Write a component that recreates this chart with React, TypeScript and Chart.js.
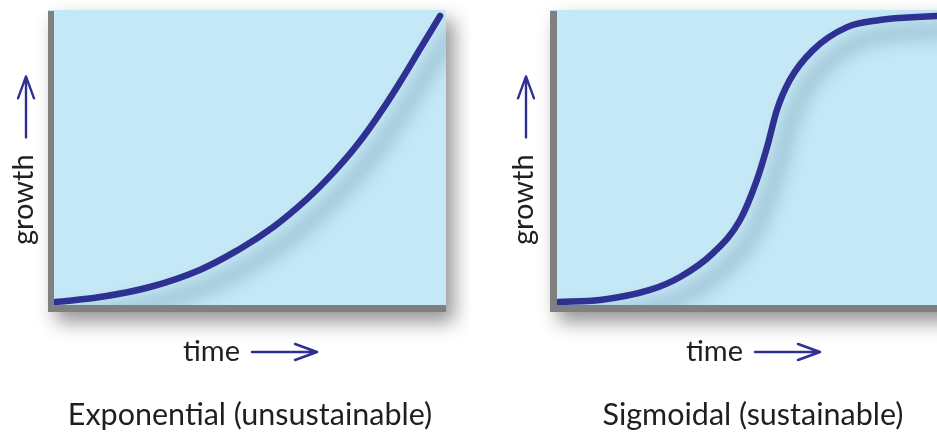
import React, { useEffect, useRef } from "react";
import { Chart, registerables } from "chart.js";

Chart.register(...registerables);

// ---- data ----
const expTime = [0.3, 11.7, 24.5, 37.2, 47.4, 55.9, 64.5, 71.2, 77.3, 83.2, 88.3, 93.4, 98.5];
const expGrowth = [1.0, 2.7, 6.1, 11.9, 19.0, 26.4, 35.9, 44.8, 54.2, 65.1, 75.6, 86.8, 98.0];
const sigTime = [0.3, 11.0, 23.7, 31.4, 39.8, 46.7, 51.0, 53.6, 56.1, 59.4, 65.3, 74.0, 82.4, 87.5, 96.9, 100];
const sigGrowth = [1.0, 1.7, 5.1, 9.5, 17.6, 28.8, 42.4, 53.6, 66.1, 76.3, 86.4, 94.2, 96.6, 97.3, 98.0, 98.1];
const panelTitles = ["Exponential (unsustainable)", "Sigmoidal (sustainable)"];
const xLabel = "time";
const yLabel = "growth";

const BG = "#c4e8f6";
const AXIS = "#808080";
const CURVE = "#2e3192";
const TEXT = "#1f1f1f";
const FONT = "29px Lato, 'Open Sans', sans-serif";
const TITLE_FONT = "30.5px Lato, 'Open Sans', sans-serif";

function arrow(ctx: CanvasRenderingContext2D, x1: number, y1: number, x2: number, y2: number) {
  const ang = Math.atan2(y2 - y1, x2 - x1);
  const hl = 22;
  const hw = 8;
  ctx.save();
  ctx.strokeStyle = CURVE;
  ctx.lineWidth = 2.4;
  ctx.lineCap = "round";
  ctx.lineJoin = "round";
  ctx.beginPath();
  ctx.moveTo(x1, y1);
  ctx.lineTo(x2, y2);
  const bx = x2 - hl * Math.cos(ang);
  const by = y2 - hl * Math.sin(ang);
  const px = -Math.sin(ang) * hw;
  const py = Math.cos(ang) * hw;
  ctx.moveTo(bx + px, by + py);
  ctx.lineTo(x2, y2);
  ctx.lineTo(bx - px, by - py);
  ctx.stroke();
  ctx.restore();
}

const decorPlugin = {
  id: "decor",
  beforeDraw(chart: any, _args: any, opts: any) {
    const { ctx, chartArea: a } = chart;
    const W = opts.axisW;
    const H = 7;
    ctx.save();
    ctx.shadowColor = "rgba(0,0,0,0.42)";
    ctx.shadowBlur = 18;
    ctx.shadowOffsetX = 8;
    ctx.shadowOffsetY = 10;
    ctx.fillStyle = BG;
    ctx.fillRect(a.left - W, a.top, a.right - a.left + W, a.bottom - a.top + H);
    ctx.restore();
    ctx.save();
    ctx.fillStyle = BG;
    ctx.fillRect(a.left, a.top, a.right - a.left, a.bottom - a.top);
    ctx.fillStyle = AXIS;
    ctx.fillRect(a.left - W, a.top + 1, W, a.bottom - a.top + H - 1);
    ctx.fillRect(a.left - W, a.bottom, a.right - a.left + W, H);
    ctx.restore();
  },
  beforeDatasetDraw(chart: any) {
    const ctx = chart.ctx;
    ctx.save();
    ctx.shadowColor = "rgba(30,70,100,0.5)";
    ctx.shadowBlur = 18;
    ctx.shadowOffsetX = 13;
    ctx.shadowOffsetY = 14;
  },
  afterDatasetDraw(chart: any) {
    chart.ctx.restore();
  },
  afterDraw(chart: any, _args: any, opts: any) {
    const { ctx, chartArea: a } = chart;
    const cx = (a.left + a.right) / 2;
    ctx.save();
    ctx.font = FONT;
    ctx.fillStyle = TEXT;
    ctx.textBaseline = "alphabetic";
    ctx.textAlign = "left";

    // x label + arrow
    const tw = ctx.measureText(xLabel).width;
    const gap = 12;
    const alen = 65;
    const start = cx - (tw + gap + alen) / 2;
    ctx.fillText(xLabel, start, a.bottom + 56);
    arrow(ctx, start + tw + gap, a.bottom + 47, start + tw + gap + alen, a.bottom + 47);

    // y label + arrow (rotated)
    const gw = ctx.measureText(yLabel).width;
    const bx = a.left + opts.yLabelDx;
    const y0 = a.bottom - 60;
    ctx.save();
    ctx.translate(bx, y0);
    ctx.rotate(-Math.PI / 2);
    ctx.fillText(yLabel, 0, 0);
    ctx.restore();
    const tail = y0 - gw - 17;
    arrow(ctx, bx - 7, tail, bx - 7, tail - 61);

    // panel title
    ctx.font = TITLE_FONT;
    ctx.textAlign = "center";
    ctx.fillText(opts.title, cx, a.bottom + 120);
    ctx.restore();
  },
};

function Panel(props: {
  time: number[];
  growth: number[];
  title: string;
  left: number;
  yLabelDx: number;
  axisW: number;
  mode: string;
}) {
  const ref = useRef<HTMLCanvasElement | null>(null);
  useEffect(() => {
    const canvas = ref.current;
    if (!canvas) return;
    const pts = props.time.map((t, i) => ({ x: t, y: props.growth[i] }));
    const chart = new Chart(canvas, {
      type: "line",
      data: {
        datasets: [
          {
            data: pts,
            borderColor: CURVE,
            borderWidth: 6.5,
            pointRadius: 0,
            fill: false,
            cubicInterpolationMode: props.mode,
            tension: 0.4,
            borderCapStyle: "round",
          } as any,
        ],
      },
      options: {
        responsive: false,
        animation: false,
        devicePixelRatio: 1,
        layout: { padding: { left: 54, right: 24, top: 10, bottom: 130 } },
        scales: {
          x: { type: "linear", display: false, min: 0, max: 100 },
          y: { type: "linear", display: false, min: 0, max: 100 },
        },
        plugins: {
          legend: { display: false },
          tooltip: { enabled: false },
          decor: { title: props.title, yLabelDx: props.yLabelDx, axisW: props.axisW },
        } as any,
      },
      plugins: [decorPlugin as any],
    });
    return () => chart.destroy();
  }, []);
  return (
    <canvas
      ref={ref}
      width={470}
      height={435}
      style={{ position: "absolute", left: props.left, top: 0, width: 470, height: 435 }}
    />
  );
}

export default function App() {
  return (
    <div
      style={{
        position: "fixed",
        left: 0,
        top: 0,
        width: 937,
        height: 435,
        overflow: "hidden",
        background: "#ffffff",
      }}
    >
      <Panel time={expTime} growth={expGrowth} title={panelTitles[0]} left={0} yLabelDx={-21} axisW={6} mode="default" />
      <Panel time={sigTime} growth={sigGrowth} title={panelTitles[1]} left={503} yLabelDx={-24} axisW={7} mode="monotone" />
    </div>
  );
}
